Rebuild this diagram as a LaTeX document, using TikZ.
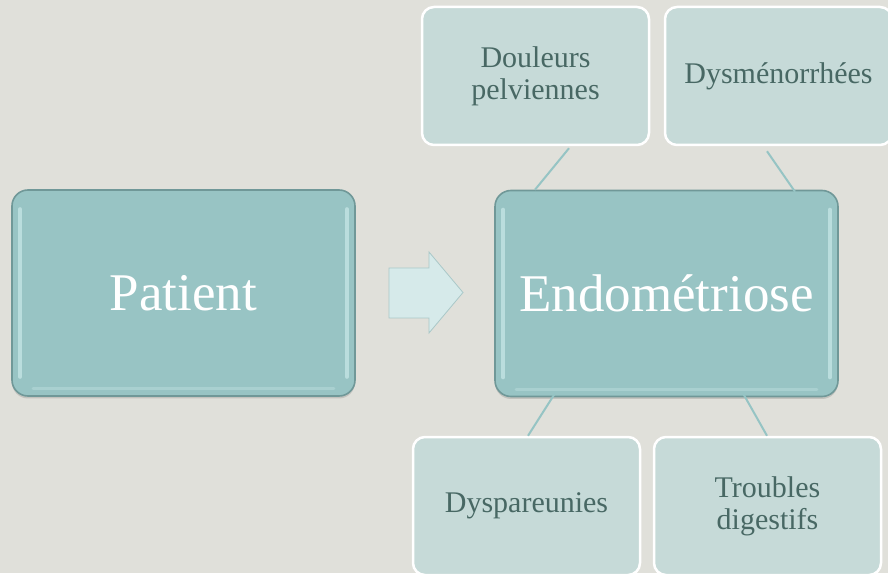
\documentclass[tikz,border=0pt]{standalone}
\usepackage{fontspec}
\setmainfont{Liberation Serif}
\usetikzlibrary{shadows,calc}
\definecolor{bg}{RGB}{224,224,218}
\definecolor{mainteal}{RGB}{152,196,196}
\definecolor{mainedge}{RGB}{112,152,152}
\definecolor{hilite}{RGB}{210,238,238}
\definecolor{smallfill}{RGB}{198,218,216}
\definecolor{smalltext}{RGB}{72,104,100}
\definecolor{linkcol}{RGB}{150,196,196}
\definecolor{arrowfill}{RGB}{214,234,234}
\definecolor{arrowedge}{RGB}{170,200,200}
\tikzset{
  mainbox/.style={draw=mainedge, line width=1.6pt, fill=mainteal, rounded corners=16pt,
    minimum width=343pt, minimum height=206pt, inner sep=0pt, text=white,
    font=\fontsize{53}{60}\selectfont,
    drop shadow={opacity=0.3, shadow xshift=0pt, shadow yshift=-2.5pt}},
  smallbox/.style={draw=white, line width=2.5pt, fill=smallfill, rounded corners=12pt,
    minimum width=227pt, minimum height=138pt, inner sep=0pt, text=smalltext,
    align=center, font=\fontsize{30}{32}\selectfont},
  link/.style={draw=linkcol, line width=2pt},
  glint/.style={draw=hilite, line width=4pt, line cap=round, opacity=0.6},
}
\begin{document}
\begin{tikzpicture}[x=1pt,y=1pt]
\fill[bg] (0,0) rectangle (888,573);
\useasboundingbox (0,0) rectangle (888,573);
% small boxes
\node[smallbox] (dp) at (535.5,497) {Douleurs\\pelviennes};
\node[smallbox] (dm) at (778.5,497) {Dysménorrhées};
\node[smallbox] (dy) at (526.5,67) {Dyspareunies};
\node[smallbox] (tr) at (767.5,67) {Troubles\\digestifs};
% main boxes
\node[mainbox] (pa) at (183.5,280) {Patient};
\node[mainbox] (en) at (666.5,279.5) {Endométriose};
% highlights on main boxes
\foreach \n in {pa,en}{
  \draw[glint] ([xshift=9pt,yshift=-20pt]\n.north west) -- ([xshift=9pt,yshift=20pt]\n.south west);
  \draw[glint] ([xshift=-9pt,yshift=-20pt]\n.north east) -- ([xshift=-9pt,yshift=20pt]\n.south east);
  \draw[glint, opacity=0.3, line width=3pt] ([xshift=22pt,yshift=8pt]\n.south west) -- ([xshift=-22pt,yshift=8pt]\n.south east);
}
% connectors
\draw[link] ([xshift=33.5pt,yshift=-2pt]dp.south) -- ([xshift=-131.5pt]en.north);
\draw[link] ([xshift=-11.5pt,yshift=-5pt]dm.south) -- ([xshift=128.5pt,yshift=-2pt]en.north);
\draw[link] ([xshift=-111.5pt,yshift=4pt]en.south) -- ([xshift=1.5pt]dy.north);
\draw[link] ([xshift=76.5pt,yshift=4pt]en.south) -- ([xshift=-0.5pt]tr.north);
% arrow
\draw[arrowedge, fill=arrowfill, line width=0.8pt, line join=miter]
  (389,305) -- (429,305) -- (429,321) -- (463,280.5) -- (429,240) -- (429,255) -- (389,255) -- cycle;
\end{tikzpicture}
\end{document}
